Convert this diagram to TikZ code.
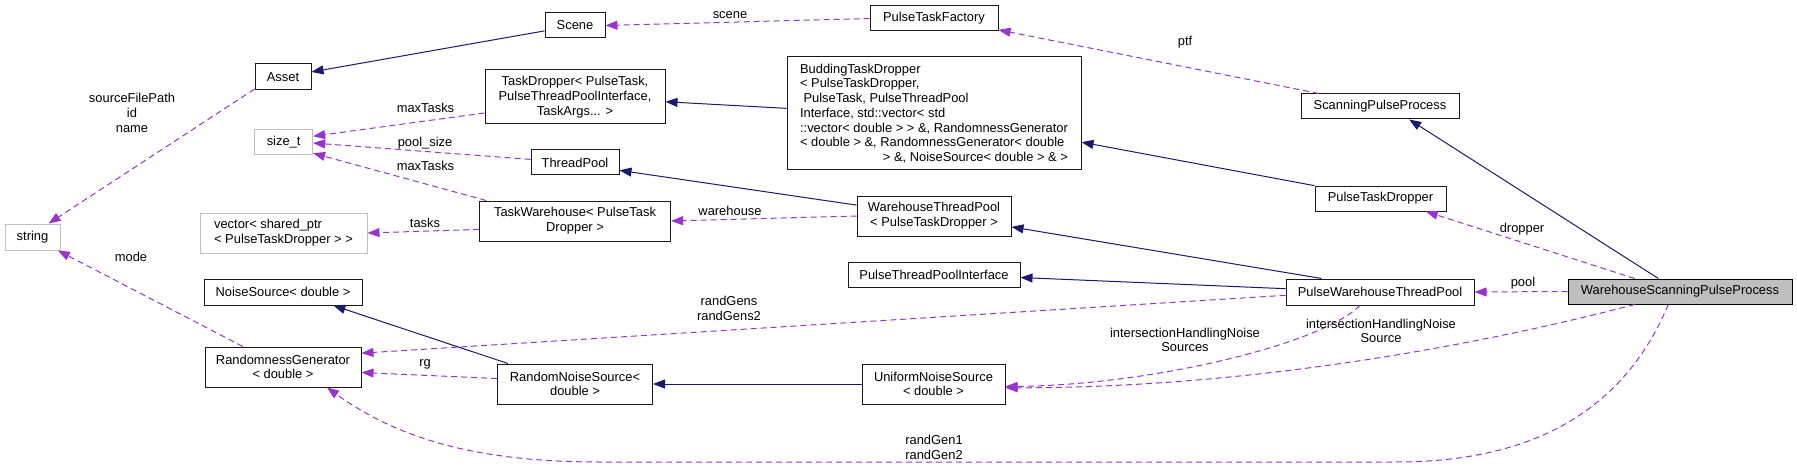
\documentclass[tikz,border=0pt]{standalone}
\usepackage{fontspec}
\setmainfont{Liberation Sans}
\usetikzlibrary{arrows.meta}

\definecolor{inhblue}{HTML}{191970}
\definecolor{usepurple}{HTML}{9A32CD}
\definecolor{extgray}{HTML}{BFBFBF}

\begin{document}
\begin{tikzpicture}[
  x=1pt, y=-1pt,
  font=\fontsize{12.9}{14.7}\selectfont,
  box/.style={rectangle, draw=black!90, line width=1pt, inner sep=0pt, align=center, minimum height=25pt},
  extbox/.style={box, draw=extgray},
  inherit/.style={-{Triangle[length=12pt, width=9pt]}, draw=inhblue, line width=1pt},
  usage/.style={-{Triangle[length=12pt, width=9pt]}, draw=usepurple, dash pattern=on 6pt off 4pt, line width=1pt},
  lbl/.style={align=center, inner sep=0pt}
]
\useasboundingbox (0,0) rectangle (1797,468);

% classes
\node[box, minimum width=60pt] (scene) at (575,25.5) {Scene};
\node[box, minimum width=56pt, minimum height=26pt] (asset) at (283,77) {Asset};
\node[box, minimum width=180pt, minimum height=54pt] (taskdropper) at (575,97) {TaskDropper< PulseTask,\\PulseThreadPoolInterface,\\TaskArgs... >};
\node[extbox, minimum width=58pt] (sizet) at (283.6,142.5) {size\_t};
\node[box, minimum width=88pt] (threadpool) at (575,162.5) {ThreadPool};
\node[box, minimum width=191pt, minimum height=40pt] (taskwarehouse) at (575,221) {TaskWarehouse< PulseTask\\Dropper >};
\node[extbox, minimum width=167pt, minimum height=40pt, align=left] (vector) at (283.5,233) {vector< shared\_ptr\\\hfill< PulseTaskDropper > >\hfill};
\node[extbox, minimum width=55pt, minimum height=26pt] (string) at (32.5,237) {string};
\node[box, minimum width=158pt, minimum height=26pt] (noisesource) at (283,292) {NoiseSource< double >};
\node[box, minimum width=156pt, minimum height=40pt] (randgen) at (283,367) {RandomnessGenerator\\< double >};
\node[box, minimum width=155pt, minimum height=40pt] (randnoise) at (575,384) {RandomNoiseSource<\\double >};
\node[box, minimum width=143pt, minimum height=40pt] (uniform) at (933.5,384) {UniformNoiseSource\\< double >};
\node[box, minimum width=172pt] (ptpi) at (934,274.5) {PulseThreadPoolInterface};
\node[box, minimum width=128pt] (ptfactory) at (934,18.5) {PulseTaskFactory};
\node[box, minimum width=294pt, minimum height=113pt, align=left] (budding) at (934,113.5) {BuddingTaskDropper\\< PulseTaskDropper,\\\hspace*{3.5pt}PulseTask, PulseThreadPool\\Interface, std::vector< std\\::vector< double > > \&, RandomnessGenerator\\< double > \&, RandomnessGenerator< double\\\hfill> \&, NoiseSource< double > \& >\hfill};
\node[box, minimum width=154pt, minimum height=40pt] (whtp) at (934,216) {WarehouseThreadPool\\< PulseTaskDropper >};
\node[box, minimum width=158pt] (scanning) at (1380,106.5) {ScanningPulseProcess};
\node[box, minimum width=131pt] (ptdropper) at (1380.5,198.5) {PulseTaskDropper};
\node[box, minimum width=188pt, minimum height=26pt] (pwtp) at (1380,292) {PulseWarehouseThreadPool};
\node[box, fill=extgray, draw=black, minimum width=224pt] (wspp) at (1680,291.5) {WarehouseScanningPulseProcess};

% inheritance
\draw[inherit] (scene.190) -- (asset.10);
\draw[inherit] (budding.178) -- (taskdropper.-3);
\draw[inherit] (whtp.172) -- (threadpool.-10);
\draw[inherit] (pwtp.167) -- (whtp.-8);
\draw[inherit] (pwtp.178) -- (ptpi.-2);
\draw[inherit] (ptdropper.169) -- (budding.-11);
\draw[inherit] (wspp.149) -- (scanning.-24);
\draw[inherit] (randnoise.163) -- (noisesource.-15);
\draw[inherit] (uniform.west) -- (randnoise.east);

% usage
\draw[usage] (asset.203) -- (string.40);
\draw[usage] (randgen.153) -- (string.-28);
\draw[usage] (taskdropper.190) -- (sizet.12);
\draw[usage] (threadpool.176) -- (sizet.-1);
\draw[usage] (taskwarehouse.167) -- (sizet.-20);
\draw[usage] (taskwarehouse.185) -- (vector.east);
\draw[usage] (whtp.west) -- (taskwarehouse.east);
\draw[usage] (ptfactory.west) -- (scene.east);
\draw[usage] (scanning.168) -- (ptfactory.-10);
\draw[usage] (wspp.164) -- (ptdropper.-16);
\draw[usage] (wspp.west) -- (pwtp.east);
\draw[usage] (pwtp.182) -- (randgen.10);
\draw[usage] (randnoise.176) -- (randgen.-4);
\draw[usage] (pwtp.214) .. controls (1320,345) and (1150,385) .. (uniform.-2);
\draw[usage] (wspp.196) .. controls (1480,345) and (1250,388) .. (uniform.-3);
\draw[usage] (wspp.228) .. controls (1620,420) and (1520,462) .. (1396,462) -- (600,462) .. controls (480,462) and (400,440) .. (randgen.-25);

% labels
\node[lbl] (lsrc) at (132,113) {sourceFilePath\\id\\name};
\node[lbl] (lmode) at (131,257) {mode};
\node[lbl] (lmax1) at (425.5,108) {maxTasks};
\node[lbl] (lpoolsize) at (425,143) {pool\_size};
\node[lbl] (lmax2) at (425.5,166) {maxTasks};
\node[lbl] (ltasks) at (425,223) {tasks};
\node[lbl] (lware) at (730,211) {warehouse};
\node[lbl] (lscene) at (730,15) {scene};
\node[lbl] (lptf) at (1185,42) {ptf};
\node[lbl] (ldrop) at (1522,229) {dropper};
\node[lbl] (lpool) at (1523,283) {pool};
\node[lbl] (lrgens) at (729,308.5) {randGens\\randGens2};
\node[lbl] (lrg) at (425,364) {rg};
\node[lbl] (lihs) at (1185,340) {intersectionHandlingNoise\\Sources};
\node[lbl] (lih) at (1381,331) {intersectionHandlingNoise\\Source};
\node[lbl] (lrgen) at (934,447.5) {randGen1\\randGen2};

\end{tikzpicture}
\end{document}
